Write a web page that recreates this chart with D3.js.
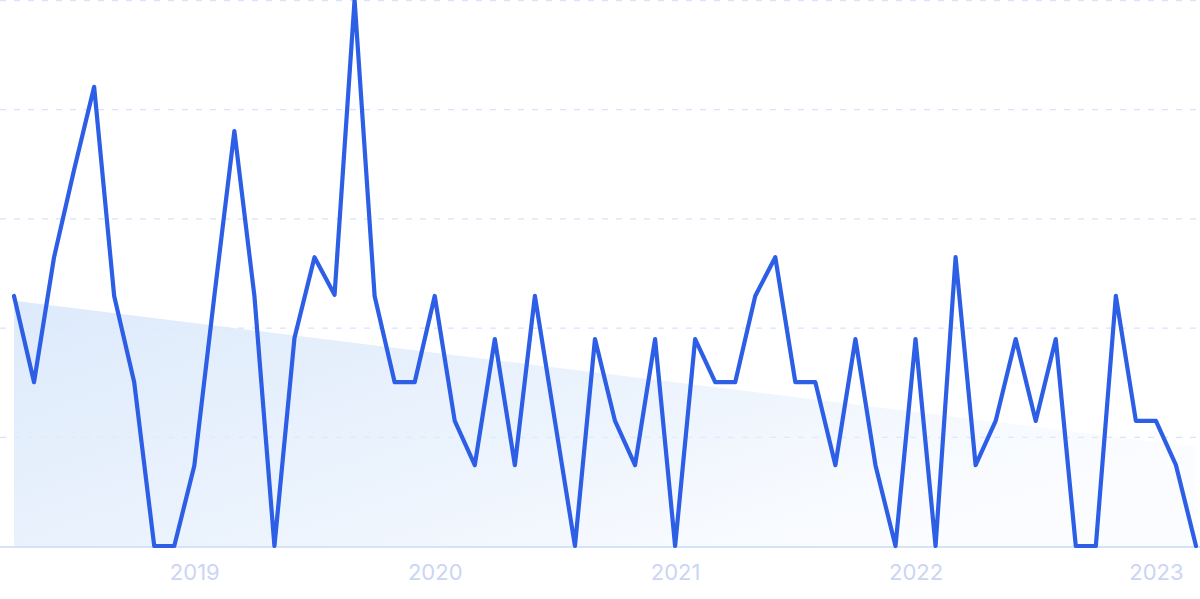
<!DOCTYPE html>
<html>
<head>
<meta charset="utf-8">
<script src="https://cdn.jsdelivr.net/npm/d3@7"></script>
<style>
  html, body { margin: 0; padding: 0; background: #ffffff; }
  svg { display: block; }
</style>
</head>
<body>
<div id="chart"></div>
<script>
// ---- data ----
const months = d3.range(60).map(i => d3.timeFormat("%Y-%m")(d3.timeMonth.offset(new Date(2018, 3, 1), i)));
const values = [
  45.8, 30.0, 52.9, 68.9, 84.1, 45.8, 30.0, 0, 0, 14.7,
  45.8, 76.0, 45.8, 0, 38.1, 52.9, 46.0, 100, 45.8, 30.0,
  30.0, 45.8, 22.9, 14.8, 37.9, 14.8, 45.8, 22.9, 0, 37.9,
  22.9, 14.8, 37.9, 0, 37.9, 30.0, 30.0, 45.8, 52.9, 30.0,
  30.0, 14.8, 37.9, 14.8, 0, 37.9, 0, 52.9, 14.8, 22.9,
  37.9, 22.9, 37.9, 0, 0, 45.8, 22.9, 22.9, 14.8, 0
];
const trendValues = [44.9, 18.2];          // trend at first and last month
const yGridValues = [20, 40, 60, 80, 100];
const yearTickLabels = ["2019", "2020", "2021", "2022", "2023"];

// ---- layout ----
const W = 1200, H = 599;
const svg = d3.select("#chart").append("svg").attr("width", W).attr("height", H);

const x = d3.scaleLinear().domain([0, months.length - 1]).range([14, 1196]);
const y = d3.scaleLinear().domain([0, 100]).range([546, 0]);

const defs = svg.append("defs");
const grad = defs.append("linearGradient").attr("id", "trendGrad")
  .attr("x1", "0%").attr("y1", "0%").attr("x2", "100%").attr("y2", "60%");
grad.append("stop").attr("offset", "0%").attr("stop-color", "#dbe9fb").attr("stop-opacity", 0.95);
grad.append("stop").attr("offset", "55%").attr("stop-color", "#e3eefc").attr("stop-opacity", 0.7);
grad.append("stop").attr("offset", "100%").attr("stop-color", "#eef4fe").attr("stop-opacity", 0.25);

// gridlines
svg.append("g").selectAll("line").data(yGridValues).join("line")
  .attr("x1", 0).attr("x2", W)
  .attr("y1", d => y(d) + 0.5).attr("y2", d => y(d) + 0.5)
  .attr("stroke", "#d6e3fb").attr("stroke-width", 1.3)
  .attr("stroke-dasharray", "6,8");

// trend area
const trendData = [
  { i: 0, v: trendValues[0] },
  { i: months.length - 1, v: trendValues[1] }
];
svg.append("path").datum(trendData)
  .attr("fill", "url(#trendGrad)")
  .attr("d", d3.area().x(d => x(d.i)).y0(y(0)).y1(d => y(d.v)));

// baseline
svg.append("line")
  .attr("x1", 0).attr("x2", W)
  .attr("y1", y(0) + 1).attr("y2", y(0) + 1)
  .attr("stroke", "#d5e3fa").attr("stroke-width", 2);

// x axis labels (January of each year)
const janIdx = months.map((m, i) => m.endsWith("-01") ? i : -1).filter(i => i >= 0);
const xAxis = d3.axisBottom(x)
  .tickValues(janIdx)
  .tickFormat((d, k) => yearTickLabels[k])
  .tickSize(0).tickPadding(0);
const gx = svg.append("g").attr("transform", `translate(0, 580)`).call(xAxis);
gx.select(".domain").remove();
gx.selectAll("text")
  .attr("dy", 0)
  .attr("fill", "#cbd5f4")
  .style("font-family", "Inter, 'Open Sans', sans-serif")
  .style("font-size", "22px");

// main line
svg.append("path").datum(values)
  .attr("fill", "none")
  .attr("stroke", "#2d5ee6")
  .attr("stroke-width", 4.2)
  .attr("stroke-linejoin", "round")
  .attr("stroke-linecap", "round")
  .attr("d", d3.line().x((d, i) => x(i)).y(d => y(d)));
</script>
</body>
</html>
